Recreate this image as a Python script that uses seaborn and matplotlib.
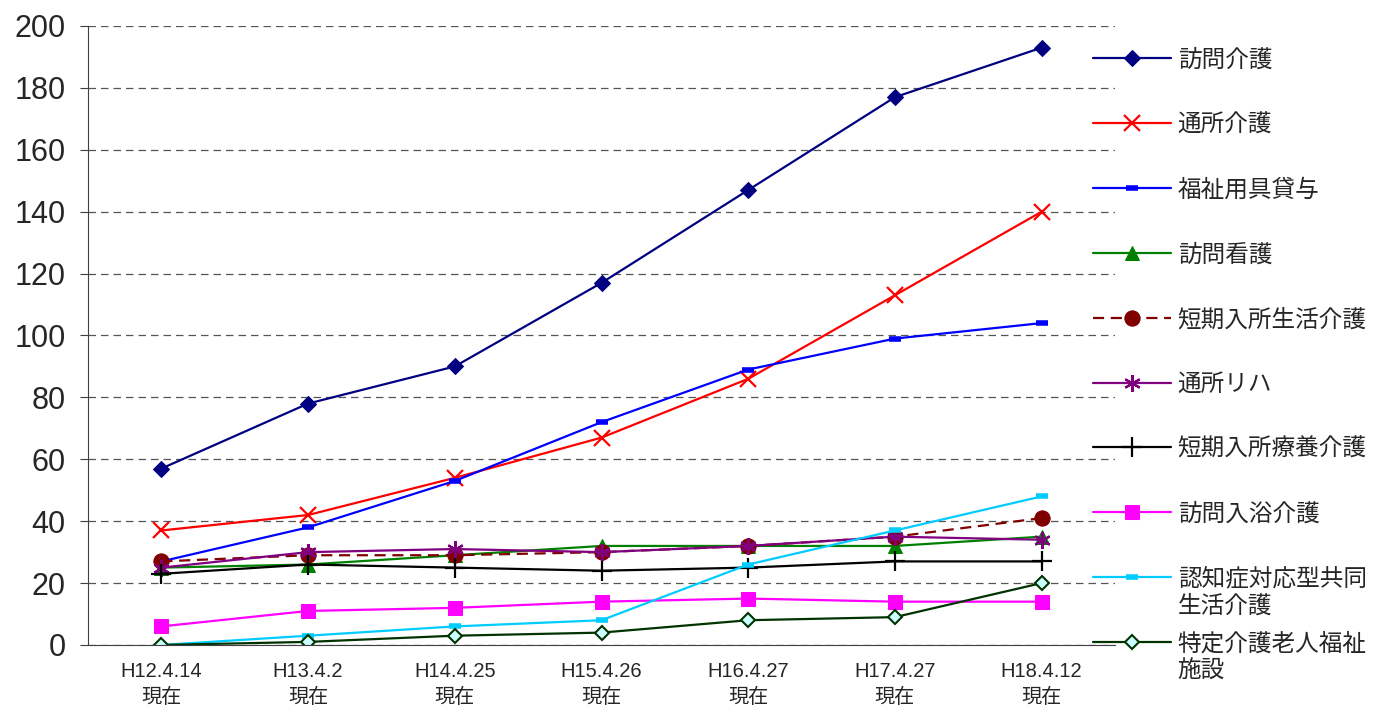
import matplotlib
matplotlib.use("Agg")
import matplotlib.pyplot as plt
import seaborn as sns
import numpy as np
import pandas as pd

# ── Data ───────────────────────────────────────────────────────────
DATES = ['H12.4.14\n現在', 'H13.4.2\n現在', 'H14.4.25\n現在', 'H15.4.26\n現在',
         'H16.4.27\n現在', 'H17.4.27\n現在', 'H18.4.12\n現在']

houmon_kaigo   = [57, 78, 90, 117, 147, 177, 193]
tsusho_kaigo   = [37, 42, 54, 67, 86, 113, 140]
fukushi_yogu   = [27, 38, 53, 72, 89, 99, 104]
houmon_kango   = [25, 26, 29, 32, 32, 32, 35]
tanki_seikatsu = [27, 29, 29, 30, 32, 35, 41]
tsusho_riha    = [25, 30, 31, 30, 32, 35, 34]
tanki_ryoyo    = [23, 26, 25, 24, 25, 27, 27]
houmon_nyuyoku = [6, 11, 12, 14, 15, 14, 14]
ninchisho_gh   = [0, 3, 6, 8, 26, 37, 48]
tokutei_shisetsu = [0, 1, 3, 4, 8, 9, 20]

SERIES = [
    ('訪問介護', houmon_kaigo),
    ('通所介護', tsusho_kaigo),
    ('福祉用具貸与', fukushi_yogu),
    ('訪問看護', houmon_kango),
    ('短期入所生活介護', tanki_seikatsu),
    ('通所リハ', tsusho_riha),
    ('短期入所療養介護', tanki_ryoyo),
    ('訪問入浴介護', houmon_nyuyoku),
    ('認知症対応型共同\n生活介護', ninchisho_gh),
    ('特定介護老人福祉\n施設', tokutei_shisetsu),
]

# line / marker style for each series
STYLES = [
    dict(color='#000080', marker='D', markersize=8, ls='-'),
    dict(color='#FF0000', marker='x', markersize=11, mew=1.6, ls='-'),
    dict(color='#0000FF', marker='_', markersize=8, mew=4, ls='-'),
    dict(color='#008000', marker='^', markersize=10, ls='-'),
    dict(color='#800000', marker='o', markersize=11, ls=(0, (5, 3))),
    dict(color='#800080', marker=(6, 2, 0), markersize=12, mew=1.6, ls='-'),
    dict(color='#000000', marker='+', markersize=14, mew=1.6, ls='-'),
    dict(color='#FF00FF', marker='s', markersize=10, ls='-'),
    dict(color='#00CCFF', marker='_', markersize=8, mew=4, ls='-'),
    dict(color='#003300', marker='D', markersize=7, mfc='#CCFFFF', mew=1.5, ls='-'),
]

sns.set_style('white')
plt.rcParams['font.family'] = ['Liberation Sans', 'Noto Sans CJK JP', 'DejaVu Sans']

W, H = 1373, 708
fig = plt.figure(figsize=(W / 100, H / 100), dpi=100)
ax = fig.add_axes([0.0641, 0.089, 0.748, 0.8743])

x = np.arange(len(DATES))
for (name, vals), st in zip(SERIES, STYLES):
    st = dict(st)
    ls = st.pop('ls')
    mfc = st.pop('mfc', st['color'])
    df = pd.DataFrame({'x': x, 'y': vals})
    sns.lineplot(data=df, x='x', y='y', ax=ax, label=name, linestyle=ls,
                 linewidth=1.6, markerfacecolor=mfc, markeredgecolor=st['color'],
                 **st)

ax.set_xlim(-0.5, len(DATES) - 0.5)
ax.set_ylim(0, 200)
ax.set_yticks(range(0, 201, 20))
ax.set_xticks(x)
ax.set_xticklabels(DATES, fontsize=14.5, linespacing=1.45)
ax.set_xticks(np.arange(-0.5, len(DATES), 1.0), minor=True)
ax.tick_params(axis='x', which='major', length=0, pad=12)
ax.tick_params(axis='x', which='minor', length=6, direction='out', color='#404040')
ax.tick_params(axis='y', labelsize=22, length=6, direction='out', color='#404040', pad=10, left=True)
ax.set_xlabel('')
ax.set_ylabel('')

ax.yaxis.grid(True, linestyle=(0, (6, 4)), color='#555555', linewidth=0.9)
ax.xaxis.grid(False)
for s in ['top', 'right']:
    ax.spines[s].set_visible(False)
ax.spines['left'].set_color('#404040')
ax.spines['bottom'].set_color('#404040')

# legend: first line of each label next to the handle, second line set below it
handles, labels = ax.get_legend_handles_labels()
ax.legend_.remove()
first_lines = [lab.split('\n')[0] for lab in labels]
leg = fig.legend(handles, first_lines, loc='upper left', bbox_to_anchor=(0.789, 0.944),
                 frameon=False, fontsize=17, handlelength=3.3, handletextpad=0.3,
                 labelspacing=1.8, borderaxespad=0)

fig.canvas.draw()
renderer = fig.canvas.get_renderer()
for lab, txt in zip(labels, leg.get_texts()):
    parts = lab.split('\n')
    if len(parts) > 1:
        bb = txt.get_window_extent(renderer)
        yc = (bb.y0 + bb.y1) / 2 - 27
        fig.text(bb.x0 / W, yc / H, parts[1], fontsize=17, ha='left', va='center')

fig.savefig('out.png', dpi=100)
